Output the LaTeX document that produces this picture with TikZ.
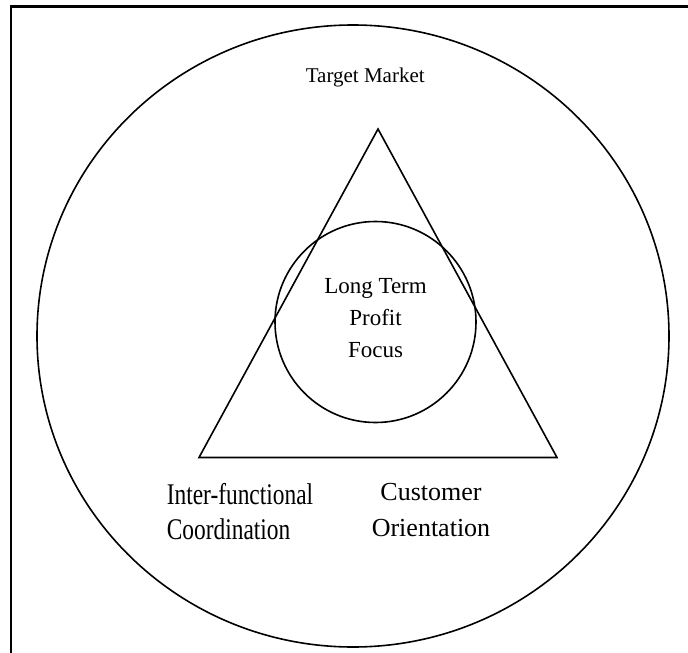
\documentclass[tikz,border=0pt]{standalone}
\usepackage{fontspec}
\setmainfont{Liberation Serif}
\usepackage{graphicx}

\begin{document}
\begin{tikzpicture}[x=1pt, y=-1pt, line width=1.6pt]
  \useasboundingbox (0,0) rectangle (688,653);
  % Frame: only the top and left edges
  \draw[line width=2.4pt] (11,653) -- (11,6.5) -- (688,6.5);

  % Outer circle: target market
  \draw (353,336) ellipse [x radius=316, y radius=311];
  \node[inner sep=0, anchor=base west, font=\fontsize{21}{24}\selectfont] (market) at (305,82) {Target Market};

  % Triangle of the three pillars
  \coordinate (apex) at (378,129);
  \coordinate (leftc) at (199,457.5);
  \coordinate (rightc) at (557,457.5);
  \draw (apex) -- (leftc) -- (rightc) -- cycle;

  % Inner circle: profit focus
  \draw (375.5,322) circle (100.5);
  \node[inner sep=0, align=center, font=\fontsize{23}{32}\selectfont] (profit) at (375.5,318)
    {Long Term\\Profit\\Focus};

  % Corner labels
  \node[inner sep=0, anchor=west, font=\fontsize{30}{35}\selectfont] (coord) at (166,515)
    {\scalebox{0.78}[1]{\begin{tabular}{@{}l@{}}Inter-functional\\Coordination\end{tabular}}};
  \node[inner sep=0, align=center, font=\fontsize{26}{36}\selectfont] (orient) at (431,510)
    {Customer\\Orientation};
\end{tikzpicture}
\end{document}
